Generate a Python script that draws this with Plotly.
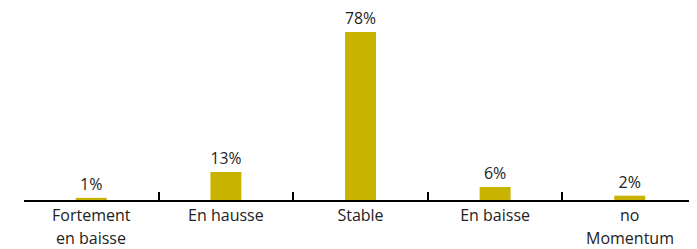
import plotly.graph_objects as go

categories = ["Fortement en baisse", "En hausse", "Stable", "En baisse", "no Momentum"]
line1 = ["Fortement", "En hausse", "Stable", "En baisse", "no"]
line2 = ["en baisse", "", "", "", "Momentum"]
values = [1, 13, 78, 6, 2]
labels = ["1%", "13%", "78%", "6%", "2%"]

FONT = "Open Sans"
FS = 16

fig = go.Figure(go.Bar(
    x=categories, y=values, text=labels, textposition="outside",
    textfont=dict(size=FS, color="#222222", family=FONT),
    marker=dict(color="#C8B400", line=dict(width=0)),
    width=0.23, cliponaxis=False,
))

# page body has an 8px margin: compensate in figure size/margins
fig.update_layout(
    width=689, height=241,
    margin=dict(l=16, r=0, t=0, b=49),
    paper_bgcolor="white", plot_bgcolor="white",
    showlegend=False,
    font=dict(family=FONT, size=FS, color="#222222"),
)
fig.update_xaxes(
    type="category", range=[-0.5, 4.5],
    tickmode="array", tickvals=categories, ticktext=line1,
    tickson="boundaries", ticks="inside", ticklen=8, tickwidth=2, tickcolor="black",
    showline=True, linecolor="black", linewidth=2, showgrid=False,
    tickfont=dict(size=FS, color="#222222", family=FONT),
)
fig.update_yaxes(range=[0, 89.1], visible=False, showgrid=False, zeroline=False)

for c, t in zip(categories, line2):
    if t:
        fig.add_annotation(x=c, xref="x", y=0, yref="paper", yanchor="top",
                           yshift=-25, text=t, showarrow=False,
                           font=dict(size=FS, color="#222222", family=FONT))

fig.write_html("out.html")
